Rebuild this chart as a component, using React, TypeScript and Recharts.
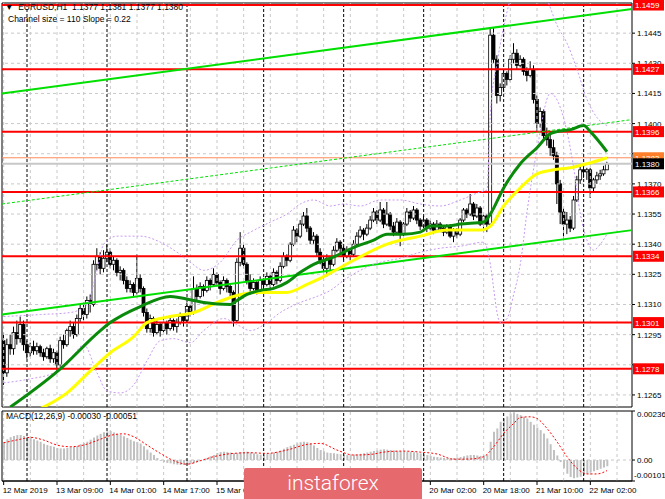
import {
  ComposedChart,
  Bar,
  Line,
  XAxis,
  YAxis,
  ReferenceLine,
  ReferenceArea,
} from "recharts";

const FONT = "'Liberation Sans', Arial, sans-serif";

// EURUSD H1 bars, 12 Mar 17:00 .. 22 Mar 07:00 — [open, high, low, close]
const candles: [number, number, number, number][] = [
  [1.1292, 1.1296, 1.127, 1.1276], [1.1276, 1.1293, 1.1274, 1.129], [1.129, 1.1295, 1.1285, 1.1288], [1.1288, 1.1299, 1.1285, 1.1296],
  [1.1296, 1.1302, 1.129, 1.1293], [1.1293, 1.1304, 1.1291, 1.13], [1.13, 1.1302, 1.1287, 1.129], [1.129, 1.1292, 1.1283, 1.1286],
  [1.1286, 1.1291, 1.1284, 1.1289], [1.1289, 1.1292, 1.1285, 1.1287], [1.1287, 1.1291, 1.1285, 1.1289], [1.1289, 1.129, 1.1284, 1.1286],
  [1.1286, 1.1288, 1.1282, 1.1284], [1.1284, 1.1289, 1.1283, 1.1288], [1.1288, 1.129, 1.1281, 1.1283], [1.1283, 1.1288, 1.1281, 1.1286],
  [1.1286, 1.1287, 1.1276, 1.128], [1.128, 1.1294, 1.1279, 1.1292], [1.1292, 1.1295, 1.1288, 1.129], [1.129, 1.1298, 1.1289, 1.1297],
  [1.1297, 1.1302, 1.1294, 1.1299], [1.1299, 1.1301, 1.1293, 1.1295], [1.1295, 1.1305, 1.1294, 1.1303], [1.1303, 1.131, 1.1301, 1.1308],
  [1.1308, 1.1311, 1.1302, 1.1305], [1.1305, 1.1314, 1.1303, 1.1312], [1.1312, 1.1315, 1.1306, 1.131], [1.131, 1.1332, 1.1309, 1.133],
  [1.133, 1.1338, 1.1327, 1.1334], [1.1334, 1.1336, 1.1325, 1.1328], [1.1328, 1.1337, 1.1326, 1.1333], [1.1333, 1.134, 1.1331, 1.1336],
  [1.1336, 1.1338, 1.1328, 1.133], [1.133, 1.1334, 1.1327, 1.1332], [1.1332, 1.1333, 1.1324, 1.1326], [1.1326, 1.1329, 1.1322, 1.1327],
  [1.1327, 1.1328, 1.132, 1.1322], [1.1322, 1.1324, 1.1316, 1.1318], [1.1318, 1.1322, 1.1316, 1.132], [1.132, 1.1321, 1.1314, 1.1316],
  [1.1316, 1.1335, 1.1315, 1.1323], [1.1323, 1.1325, 1.1316, 1.1318], [1.1318, 1.1319, 1.1304, 1.1306], [1.1306, 1.1308, 1.1296, 1.1298],
  [1.1298, 1.1305, 1.1296, 1.1303], [1.1303, 1.1304, 1.1294, 1.1296], [1.1296, 1.1302, 1.1295, 1.13], [1.13, 1.1301, 1.1294, 1.1297],
  [1.1297, 1.1303, 1.1296, 1.1301], [1.1301, 1.1302, 1.1295, 1.1298], [1.1298, 1.1304, 1.1297, 1.1302], [1.1302, 1.1303, 1.1297, 1.1299],
  [1.1299, 1.1303, 1.1296, 1.1301], [1.1301, 1.1306, 1.13, 1.1304], [1.1304, 1.1305, 1.1299, 1.1302], [1.1302, 1.1311, 1.1301, 1.1309],
  [1.1309, 1.131, 1.1304, 1.1306], [1.1306, 1.1324, 1.1305, 1.1318], [1.1318, 1.132, 1.1312, 1.1314], [1.1314, 1.1321, 1.1313, 1.1319],
  [1.1319, 1.132, 1.1314, 1.1317], [1.1317, 1.1324, 1.1316, 1.1322], [1.1322, 1.1323, 1.1317, 1.132], [1.132, 1.1328, 1.1319, 1.1325],
  [1.1325, 1.1326, 1.1319, 1.1321], [1.1321, 1.1322, 1.1315, 1.1318], [1.1318, 1.1324, 1.1317, 1.1322], [1.1322, 1.1323, 1.1316, 1.1319],
  [1.1319, 1.132, 1.1314, 1.1316], [1.1316, 1.1317, 1.1299, 1.1302], [1.1302, 1.1333, 1.1301, 1.1331], [1.1331, 1.1346, 1.1329, 1.1338],
  [1.1338, 1.134, 1.1328, 1.133], [1.133, 1.1331, 1.132, 1.1322], [1.1322, 1.1325, 1.1315, 1.1318], [1.1318, 1.1323, 1.1317, 1.1321],
  [1.1321, 1.1322, 1.1315, 1.1317], [1.1317, 1.1324, 1.1316, 1.1322], [1.1322, 1.1323, 1.1317, 1.132], [1.132, 1.1326, 1.1319, 1.1324],
  [1.1324, 1.1325, 1.1318, 1.132], [1.132, 1.1328, 1.1319, 1.1326], [1.1326, 1.1327, 1.132, 1.1322], [1.1322, 1.1331, 1.1321, 1.1329],
  [1.1329, 1.1336, 1.1328, 1.1334], [1.1334, 1.1335, 1.1329, 1.1332], [1.1332, 1.1341, 1.1331, 1.134], [1.134, 1.1349, 1.1339, 1.1347],
  [1.1347, 1.1348, 1.1341, 1.1344], [1.1344, 1.1352, 1.1343, 1.135], [1.135, 1.1356, 1.1349, 1.1354], [1.1354, 1.1358, 1.1346, 1.1348],
  [1.1348, 1.1349, 1.134, 1.1342], [1.1342, 1.1346, 1.134, 1.1344], [1.1344, 1.1345, 1.1334, 1.1336], [1.1336, 1.1338, 1.133, 1.1332],
  [1.1332, 1.1334, 1.1326, 1.1328], [1.1328, 1.1335, 1.1324, 1.1333], [1.1333, 1.1334, 1.1327, 1.133], [1.133, 1.1339, 1.1329, 1.1337],
  [1.1337, 1.1343, 1.1336, 1.1341], [1.1341, 1.1342, 1.1335, 1.1338], [1.1338, 1.1339, 1.1332, 1.1334], [1.1334, 1.1339, 1.1333, 1.1337],
  [1.1337, 1.1338, 1.1332, 1.1335], [1.1335, 1.1342, 1.1334, 1.134], [1.134, 1.1346, 1.1339, 1.1344], [1.1344, 1.1349, 1.1343, 1.1347],
  [1.1347, 1.1348, 1.1342, 1.1345], [1.1345, 1.135, 1.1344, 1.1348], [1.1348, 1.1354, 1.1347, 1.1352], [1.1352, 1.1358, 1.1351, 1.1356],
  [1.1356, 1.1357, 1.135, 1.1352], [1.1352, 1.1361, 1.1351, 1.1357], [1.1357, 1.1358, 1.1348, 1.135], [1.135, 1.1361, 1.1349, 1.1355],
  [1.1355, 1.1356, 1.1347, 1.1349], [1.1349, 1.1351, 1.1344, 1.1346], [1.1346, 1.1353, 1.1345, 1.1351], [1.1351, 1.1352, 1.1339, 1.1345],
  [1.1345, 1.1351, 1.1344, 1.135], [1.135, 1.1358, 1.1349, 1.1356], [1.1356, 1.1357, 1.1351, 1.1353], [1.1353, 1.1359, 1.1352, 1.1357],
  [1.1357, 1.1358, 1.135, 1.1352], [1.1352, 1.1353, 1.1347, 1.1349], [1.1349, 1.1354, 1.1348, 1.1352], [1.1352, 1.1353, 1.1346, 1.1348],
  [1.1348, 1.1352, 1.1347, 1.135], [1.135, 1.1351, 1.1345, 1.1347], [1.1347, 1.1352, 1.1346, 1.135], [1.135, 1.1351, 1.1346, 1.1348],
  [1.1348, 1.1349, 1.1344, 1.1346], [1.1346, 1.135, 1.1345, 1.1349], [1.1349, 1.135, 1.1343, 1.1344], [1.1344, 1.1348, 1.1341, 1.1347],
  [1.1347, 1.1348, 1.1343, 1.1345], [1.1345, 1.1353, 1.1344, 1.1352], [1.1352, 1.1358, 1.1351, 1.1357], [1.1357, 1.1358, 1.1353, 1.1355],
  [1.1355, 1.1365, 1.1354, 1.136], [1.136, 1.1361, 1.1352, 1.1354], [1.1354, 1.136, 1.1353, 1.1358], [1.1358, 1.1359, 1.1349, 1.135],
  [1.135, 1.1355, 1.1346, 1.1354], [1.1354, 1.1355, 1.1346, 1.135], [1.135, 1.1448, 1.1349, 1.1444], [1.1444, 1.1448, 1.143, 1.1432],
  [1.1432, 1.1434, 1.141, 1.1414], [1.1414, 1.142, 1.1411, 1.1418], [1.1418, 1.1427, 1.1416, 1.1425], [1.1425, 1.1426, 1.1419, 1.1422],
  [1.1422, 1.1434, 1.1421, 1.1432], [1.1432, 1.144, 1.143, 1.1435], [1.1435, 1.1437, 1.1427, 1.1429], [1.1429, 1.1434, 1.1428, 1.1432],
  [1.1432, 1.1433, 1.1424, 1.1426], [1.1426, 1.1428, 1.1421, 1.1424], [1.1424, 1.1431, 1.1423, 1.1427], [1.1427, 1.1429, 1.141, 1.1412],
  [1.1412, 1.1414, 1.1396, 1.14], [1.14, 1.1408, 1.1398, 1.1406], [1.1406, 1.1407, 1.1392, 1.1394], [1.1394, 1.1398, 1.1389, 1.1392],
  [1.1392, 1.1396, 1.1384, 1.1388], [1.1388, 1.1392, 1.1382, 1.1384], [1.1384, 1.1386, 1.136, 1.137], [1.137, 1.1372, 1.135, 1.1356],
  [1.1356, 1.1358, 1.1342, 1.135], [1.135, 1.1356, 1.1345, 1.1352], [1.1352, 1.1354, 1.1346, 1.1348], [1.1348, 1.1364, 1.1347, 1.1362],
  [1.1362, 1.1374, 1.1361, 1.1372], [1.1372, 1.1379, 1.137, 1.1377], [1.1377, 1.1379, 1.1373, 1.1376], [1.1376, 1.1378, 1.1372, 1.1377],
  [1.1377, 1.1378, 1.1363, 1.1368], [1.1368, 1.1373, 1.1366, 1.1372], [1.1372, 1.1376, 1.137, 1.1374], [1.1374, 1.1377, 1.1372, 1.1375],
  [1.1375, 1.1379, 1.1374, 1.1377], [1.1377, 1.1381, 1.1377, 1.138],
];

// MACD(12,26,9) histogram, one value per bar
const macdHist: number[] = [
  0.00085, 0.001, 0.0011, 0.00116, 0.0012, 0.0012, 0.00116, 0.00112, 0.0011, 0.001,
  0.00094, 0.00088, 0.00078, 0.00072, 0.00068, 0.00064, 0.00058, 0.00056, 0.00056, 0.00058,
  0.00062, 0.00064, 0.00068, 0.00076, 0.00082, 0.00088, 0.00098, 0.00108, 0.00118, 0.00126,
  0.00134, 0.00138, 0.0014, 0.00132, 0.00126, 0.0012, 0.00114, 0.00106, 0.00098, 0.0009,
  0.00086, 0.0008, 0.00066, 0.0005, 0.00036, 0.00024, 0.0001, -0.00004, -0.0001, -0.00014,
  -0.00016, -0.0002, -0.00022, -0.00024, -0.00024, -0.00022, -0.0002, -0.00016, -0.0001, -0.00006,
  0.00002, 0.0001, 0.00018, 0.00024, 0.00034, 0.00038, 0.0004, 0.00038, 0.00036, 0.00032,
  0.00034, 0.00038, 0.0004, 0.0004, 0.00036, 0.00032, 0.00028, 0.00026, 0.00028, 0.0003,
  0.00032, 0.00036, 0.0004, 0.00046, 0.00054, 0.00062, 0.00068, 0.00074, 0.0008, 0.00086,
  0.00088, 0.00086, 0.0008, 0.0007, 0.00058, 0.00048, 0.00042, 0.00036, 0.00034, 0.00032,
  0.0003, 0.00028, 0.00026, 0.00024, 0.00024, 0.00026, 0.00028, 0.0003, 0.00032, 0.00036,
  0.0004, 0.00044, 0.00046, 0.0005, 0.00052, 0.0005, 0.00048, 0.00046, 0.00044, 0.00042,
  0.00042, 0.0004, 0.0004, 0.00038, 0.00036, 0.00032, 0.00028, 0.00024, 0.0002, 0.00016,
  0.00014, 0.00012, 0.0001, 0.00008, 0.00008, 0.0001, 0.00012, 0.00014, 0.00018, 0.00022,
  0.00024, 0.00024, 0.00022, 0.0002, 0.00022, 0.00026, 0.00088, 0.00136, 0.00152, 0.00184,
  0.002, 0.0021, 0.00224, 0.0023, 0.00222, 0.00216, 0.00208, 0.002, 0.00184, 0.0017,
  0.00156, 0.00144, 0.00128, 0.00104, 0.00076, 0.00048, 0.00022, -0.0001, -0.0004, -0.00066,
  -0.00082, -0.00088, -0.00084, -0.0008, -0.00072, -0.00066, -0.0006, -0.00054, -0.00048, -0.00042,
  -0.00036, -0.0003,
];

// MACD signal line, read at [bar, value]
const macdSignal: [number, number][] = [
  [0, 0.00083], [5, 0.001], [8, 0.00109], [12, 0.00096], [16, 0.00072], [20, 0.00064], [24, 0.00072],
  [29, 0.001], [33, 0.00122], [36, 0.00126], [39, 0.00112], [43, 0.00072], [47, 0.00032], [51, -0.00003],
  [55, -0.0002], [59, -0.00003], [63, 0.00016], [69, 0.00032], [74, 0.00035], [79, 0.00032], [85, 0.00048],
  [91, 0.00075], [95, 0.0008], [100, 0.00048], [105, 0.00024], [110, 0.00027], [115, 0.0004], [120, 0.00043],
  [125, 0.00038], [130, 0.00029], [135, 0.00004], [140, 0.00005], [144, 0.00016], [147, 0.00064], [150, 0.00128],
  [153, 0.00176], [155, 0.00205], [158, 0.00208], [160, 0.002], [163, 0.00152], [166, 0.00088], [169, 0.00016],
  [172, -0.0004], [175, -0.00067], [178, -0.00067], [181, -0.00051],
];

// moving averages, read at [bar, price]
const fastMA: [number, number][] = [
  [2, 1.1259], [17, 1.1278], [29, 1.1297], [32, 1.1301], [41, 1.1309], [50, 1.1314], [57, 1.1312],
  [60, 1.1311], [68, 1.131], [70, 1.1312], [73, 1.1315], [77, 1.1317], [81, 1.1318], [85, 1.1321],
  [89, 1.1326], [93, 1.133], [98, 1.1333], [106, 1.1339], [111, 1.1342], [115, 1.1345], [120, 1.1345],
  [125, 1.1346], [128, 1.1349], [133, 1.1349], [137, 1.135], [144, 1.1351], [146, 1.1355], [150, 1.1368],
  [155, 1.138], [160, 1.1388], [164, 1.1395], [166, 1.1396], [170, 1.1397], [174, 1.1399], [176, 1.1396],
  [181, 1.1386],
];
const slowMA: [number, number][] = [
  [8, 1.1256], [19, 1.1266], [26, 1.1277], [32, 1.1286], [39, 1.1294], [43, 1.1301], [50, 1.1304],
  [57, 1.1306], [64, 1.1311], [69, 1.1314], [75, 1.1316], [79, 1.1316], [85, 1.1316], [91, 1.132],
  [95, 1.1323], [105, 1.1332], [115, 1.134], [125, 1.1344], [133, 1.1347], [143, 1.1347], [146, 1.1349],
  [150, 1.1359], [155, 1.1368], [160, 1.1375], [165, 1.1377], [170, 1.1378], [175, 1.138], [181, 1.1383],
];

// envelope bands (purple dotted), read at [bar, price]
const bandUpper: [number, number][] = [
  [0, 1.1304], [11, 1.1305], [20, 1.1306], [25, 1.131], [28, 1.1327], [30, 1.134], [34, 1.1344],
  [41, 1.1344], [47, 1.1341], [52, 1.1336], [56, 1.1331], [60, 1.1327], [65, 1.1331], [70, 1.1342],
  [74, 1.1346], [80, 1.1351], [85, 1.1355], [89, 1.136], [93, 1.1362], [98, 1.1359], [102, 1.136],
  [107, 1.1359], [113, 1.1362], [119, 1.1362], [125, 1.136], [131, 1.1359], [137, 1.1362], [143, 1.1366],
  [145, 1.1367], [146, 1.1405], [148, 1.143], [150, 1.1448], [152, 1.1462], [155, 1.1475], [158, 1.1478],
  [161, 1.147], [163, 1.1462], [166, 1.1449], [169, 1.144], [172, 1.1427], [175, 1.1412], [178, 1.1403],
  [181, 1.1399],
];
const bandLower: [number, number][] = [
  [0, 1.1271], [8, 1.1273], [15, 1.1276], [21, 1.1285], [24, 1.129], [28, 1.1276], [31, 1.1267],
  [35, 1.1266], [39, 1.127], [43, 1.1282], [47, 1.1292], [51, 1.1293], [56, 1.1291], [60, 1.1297],
  [66, 1.1303], [70, 1.13], [74, 1.1297], [79, 1.1301], [83, 1.1306], [89, 1.1311], [94, 1.1314],
  [98, 1.1317], [102, 1.1322], [107, 1.1327], [113, 1.1331], [119, 1.1333], [125, 1.1336], [131, 1.1338],
  [137, 1.1339], [144, 1.1341], [146, 1.133], [147, 1.1318], [148, 1.1306], [149, 1.1301], [151, 1.1303],
  [153, 1.1315], [155, 1.133], [157, 1.1356], [160, 1.1387], [164, 1.1415], [167, 1.1408], [169, 1.1396],
  [171, 1.1378], [173, 1.1355], [175, 1.1342], [177, 1.1337], [179, 1.134], [181, 1.1345],
];

// regression channel ends (price at left edge, price at right edge)
const channelLower: [number, number] = [1.1305, 1.1347];
const channelMiddle: [number, number] = [1.136, 1.1402];
const channelUpper: [number, number] = [1.1415, 1.1457];

const levels = [1.1459, 1.1427, 1.1396, 1.1366, 1.1334, 1.1301, 1.1278];
const askPrice = 1.1383;
const bidPrice = 1.138;

const priceTicks = [1.1265, 1.128, 1.1295, 1.131, 1.1325, 1.134, 1.1355, 1.137, 1.1385, 1.14, 1.1415, 1.143, 1.1445];
// scale values whose text is hidden behind a price tag in the reference
const coveredTicks = [1.128, 1.1385];
const macdTicks = [0.00236, 0, -0.00101];

// the labels between 15 Mar and 20 Mar sit under the watermark
const timeLabels: [number, string][] = [
  [0, "12 Mar 2019"], [16, "13 Mar 09:00"], [32, "14 Mar 01:00"], [48, "14 Mar 17:00"],
  [64, "15 Mar 09:00"], [128, "20 Mar 02:00"], [144, "20 Mar 18:00"], [160, "21 Mar 10:00"],
  [176, "22 Mar 02:00"],
];
const daySeparators = [7, 31, 55, 78, 102, 126, 150, 174];
const gridBars = [0, 8, 16, 24, 32, 40, 48, 56, 64, 72, 80, 88, 96, 104, 112, 120, 128, 136, 144, 152, 160, 168, 176, 184];

const X_DOMAIN: [number, number] = [-0.5, 188.5];
const PRICE_DOMAIN: [number, number] = [1.1259, 1.146];
const MACD_DOMAIN: [number, number] = [-0.00101, 0.00236];

const fastMap = new Map(fastMA);
const slowMap = new Map(slowMA);
const upMap = new Map(bandUpper);
const loMap = new Map(bandLower);
const sigMap = new Map(macdSignal);

const rows = candles.map(([o, h, l, c], i) => ({
  i,
  o,
  h,
  l,
  c,
  range: [l, h],
  hist: macdHist[i],
  sig: sigMap.get(i) ?? null,
  fast: fastMap.get(i) ?? null,
  slow: slowMap.get(i) ?? null,
  bbUp: upMap.get(i) ?? null,
  bbLo: loMap.get(i) ?? null,
}));

function Candle(props: any) {
  const { x, y, width, height, payload } = props;
  if (x == null || !payload) return null;
  const { o, h, l, c } = payload;
  const top = Math.min(y, y + height);
  const span = Math.abs(height);
  const k = h > l ? span / (h - l) : 0;
  const mid = x + width / 2;
  const bodyTop = top + (h - Math.max(o, c)) * k;
  const bodyH = Math.max(1, Math.abs(o - c) * k);
  const up = c >= o;
  return (
    <g>
      <line x1={mid} x2={mid} y1={top} y2={top + span} stroke="#000" strokeWidth={1} />
      <rect x={x} y={bodyTop} width={width} height={bodyH} fill={up ? "#fff" : "#000"} stroke="#000" strokeWidth={0.8} />
    </g>
  );
}

function MacdTick({ x, y, payload }: any) {
  const v = Number(payload.value);
  const text = v === 0 ? "0.00" : v.toFixed(5);
  const dy = v > 0 ? 6 : v < 0 ? -3 : 3;
  return (
    <text x={v < 0 ? x - 3 : x} y={y} dy={dy} fontSize={8} fontFamily={FONT} textAnchor="start" fill="#000">
      {text}
    </text>
  );
}

const labelOf = new Map(timeLabels);

function TimeTick({ x, y, payload }: any) {
  return (
    <text x={x - 1} y={y} dy={6} fontSize={8} fontFamily={FONT} textAnchor="start" fill="#000">
      {labelOf.get(payload.value) ?? ""}
    </text>
  );
}

// price scale text drawn as a label of its grid line, so later tags can cover it
function scaleLabel(text: string | null) {
  return (p: any) => {
    const vb = p.viewBox;
    if (!vb) return null;
    const x = vb.x + vb.width;
    return (
      <g>
        <line x1={x} x2={x + 3} y1={vb.y} y2={vb.y} stroke="#000" />
        {text && (
          <text x={x + 5} y={vb.y + 3} fontSize={8} fontFamily={FONT} fill="#000">
            {text}
          </text>
        )}
      </g>
    );
  };
}

function priceTag(text: string, bg: string, color: string) {
  return (p: any) => {
    const vb = p.viewBox;
    if (!vb) return null;
    const x = vb.x + vb.width;
    return (
      <g>
        <rect x={x + 1} y={vb.y - 5.5} width={31} height={11} fill={bg} />
        <text x={x + 3} y={vb.y + 3} fontSize={8} fontFamily={FONT} fill={color}>
          {text}
        </text>
      </g>
    );
  };
}

const gridStroke = "#c8c8c8";

export default function App() {
  return (
    <div style={{ position: "absolute", left: 0, top: 0, width: 665, height: 499, background: "#fff", overflow: "hidden", fontFamily: FONT }}>
      <div style={{ position: "absolute", left: 0, top: 0 }}>
        <ComposedChart width={665} height={410} data={rows} margin={{ top: 3, right: 0, bottom: 3, left: 2 }}>
          <XAxis dataKey="i" type="number" domain={X_DOMAIN} hide allowDataOverflow />
          <YAxis orientation="right" domain={PRICE_DOMAIN} allowDataOverflow width={33} tick={false} tickLine={false} axisLine={false} />
          {priceTicks.map((t) => (
            <ReferenceLine
              key={"p" + t}
              y={t}
              stroke={gridStroke}
              strokeDasharray="3 3"
              label={scaleLabel(coveredTicks.includes(t) ? null : t.toFixed(4))}
            />
          ))}
          {gridBars.map((b) => (
            <ReferenceLine key={"g" + b} x={b} stroke={gridStroke} strokeDasharray="3 3" />
          ))}
          {daySeparators.map((b) => (
            <ReferenceLine key={"d" + b} x={b} stroke="#000" strokeDasharray="3 2" />
          ))}
          <ReferenceLine y={bidPrice} stroke="#c8c8c8" strokeWidth={2} />
          <ReferenceLine y={askPrice} stroke="#ff8c5a" strokeWidth={1} label={priceTag(askPrice.toFixed(4), "#ff7f2a", "#fff")} />
          <ReferenceLine y={bidPrice} stroke="none" label={priceTag(bidPrice.toFixed(4), "#000", "#fff")} />
          {levels.map((lv) => (
            <ReferenceLine key={"l" + lv} y={lv} stroke="#ff0000" strokeWidth={2} label={priceTag(lv.toFixed(4), "#ff0000", "#fff")} />
          ))}
          <ReferenceLine
            segment={[{ x: X_DOMAIN[0], y: channelUpper[0] }, { x: X_DOMAIN[1], y: channelUpper[1] }]}
            stroke="#00e000"
            strokeWidth={2}
          />
          <ReferenceLine
            segment={[{ x: X_DOMAIN[0], y: channelMiddle[0] }, { x: X_DOMAIN[1], y: channelMiddle[1] }]}
            stroke="#00e000"
            strokeDasharray="3 2"
          />
          <ReferenceLine
            segment={[{ x: X_DOMAIN[0], y: channelLower[0] }, { x: X_DOMAIN[1], y: channelLower[1] }]}
            stroke="#00e000"
            strokeWidth={2}
          />
          <Line dataKey="bbUp" type="monotone" stroke="#c89af0" strokeDasharray="2 2" strokeWidth={1} dot={false} connectNulls isAnimationActive={false} />
          <Line dataKey="bbLo" type="monotone" stroke="#c89af0" strokeDasharray="2 2" strokeWidth={1} dot={false} connectNulls isAnimationActive={false} />
          <Bar dataKey="range" shape={<Candle />} barSize={3} isAnimationActive={false} />
          <Line dataKey="slow" type="monotone" stroke="#ffff00" strokeWidth={3} dot={false} connectNulls isAnimationActive={false} />
          <Line dataKey="fast" type="monotone" stroke="#0a8a0a" strokeWidth={3} dot={false} connectNulls isAnimationActive={false} />
          <ReferenceArea x1={X_DOMAIN[0]} x2={X_DOMAIN[1]} y1={PRICE_DOMAIN[0]} y2={PRICE_DOMAIN[1]} fill="none" stroke="#000" strokeWidth={1} />
        </ComposedChart>
      </div>

      <div style={{ position: "absolute", left: 0, top: 408 }}>
        <ComposedChart width={665} height={91} data={rows} margin={{ top: 3, right: 0, bottom: 0, left: 2 }}>
          <XAxis
            dataKey="i"
            type="number"
            domain={X_DOMAIN}
            ticks={timeLabels.map((t) => t[0])}
            interval={0}
            allowDataOverflow
            height={18}
            tick={<TimeTick />}
            tickSize={4}
            tickLine={{ stroke: "#000" }}
            axisLine={{ stroke: "#000" }}
          />
          <YAxis
            orientation="right"
            domain={MACD_DOMAIN}
            ticks={macdTicks}
            interval={0}
            allowDataOverflow
            width={33}
            tick={<MacdTick />}
            tickSize={3}
            tickLine={{ stroke: "#000" }}
            axisLine={false}
          />
          <ReferenceLine y={0} stroke={gridStroke} strokeDasharray="3 3" />
          {gridBars.map((b) => (
            <ReferenceLine key={"mg" + b} x={b} stroke={gridStroke} strokeDasharray="3 3" />
          ))}
          {daySeparators.map((b) => (
            <ReferenceLine key={"md" + b} x={b} stroke="#000" strokeDasharray="3 2" />
          ))}
          <Bar dataKey="hist" fill="#c0c0c0" barSize={2} isAnimationActive={false} />
          <Line dataKey="sig" type="monotone" stroke="#ff0000" strokeDasharray="2 2" strokeWidth={1} dot={false} connectNulls isAnimationActive={false} />
          <ReferenceArea x1={X_DOMAIN[0]} x2={X_DOMAIN[1]} y1={MACD_DOMAIN[0]} y2={MACD_DOMAIN[1]} fill="none" stroke="#000" strokeWidth={1} />
        </ComposedChart>
      </div>

      <div style={{ position: "absolute", left: 5, top: 2, fontSize: 8.5, lineHeight: "11px", color: "#000", whiteSpace: "pre" }}>
        {"▼  EURUSD,H1  1.1377 1.1381 1.1377 1.1380"}
      </div>
      <div style={{ position: "absolute", left: 8, top: 14, fontSize: 8.5, lineHeight: "11px", color: "#000", whiteSpace: "pre" }}>
        {"Channel size = 110 Slope = 0.22"}
      </div>
      <div style={{ position: "absolute", left: 6, top: 411, fontSize: 8.5, lineHeight: "11px", color: "#000", whiteSpace: "pre" }}>
        {"MACD(12,26,9) -0.00030 -0.00051"}
      </div>

      <div
        style={{
          position: "absolute",
          left: 244,
          top: 468,
          width: 178,
          height: 34,
          background: "#e5696d",
          borderRadius: 2,
          color: "#fff",
          fontFamily: "Roboto, 'Open Sans', sans-serif",
          fontWeight: 300,
          fontSize: 21,
          lineHeight: "31px",
          textAlign: "center",
        }}
      >
        instaforex
      </div>
    </div>
  );
}
